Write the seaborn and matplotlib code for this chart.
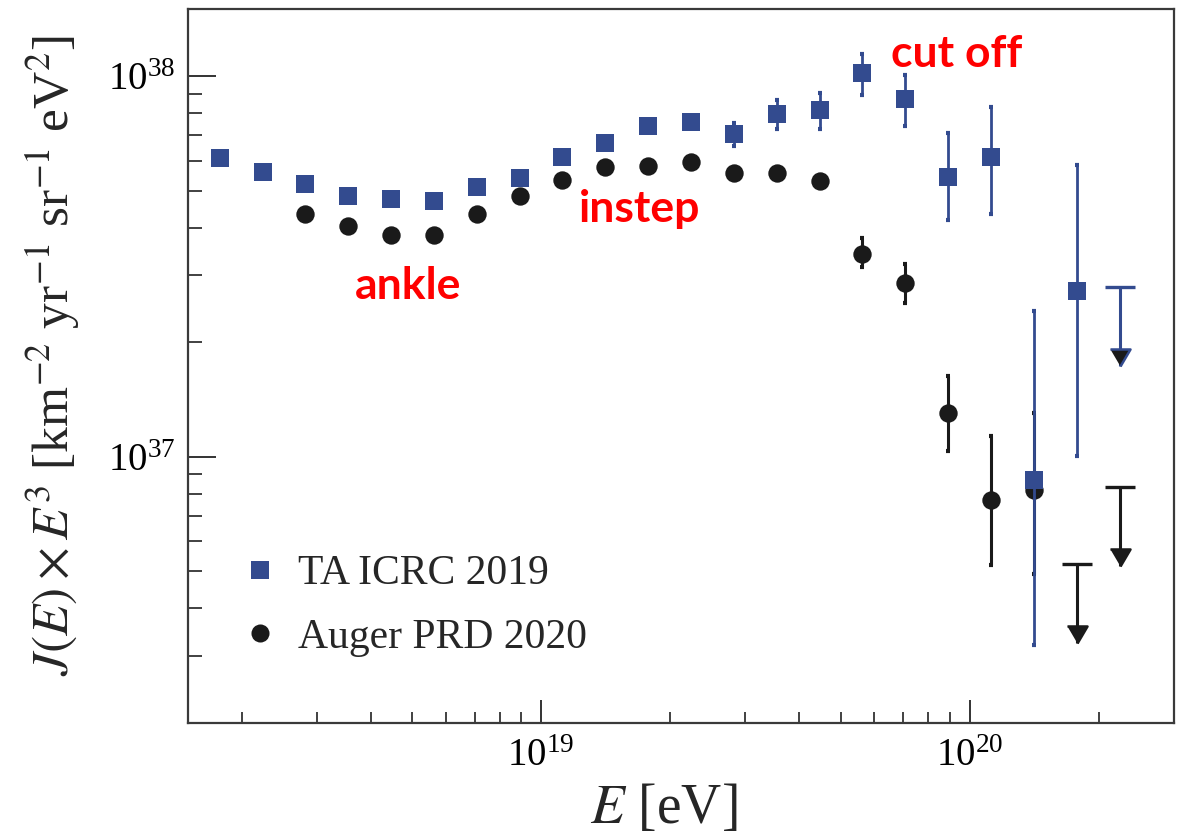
import numpy as np
import pandas as pd
import matplotlib
matplotlib.use("Agg")
import matplotlib.pyplot as plt
from matplotlib.lines import Line2D
from matplotlib.ticker import LogLocator, NullFormatter
import seaborn as sns

nan = np.nan

# ---- Telescope Array (ICRC 2019): log10(E/eV) bin centres, E^3 J(E) and 1-sigma band
ta_logE = [18.25, 18.35, 18.45, 18.55, 18.65, 18.75, 18.85, 18.95, 19.05, 19.15,
           19.25, 19.35, 19.45, 19.55, 19.65, 19.75, 19.85, 19.95, 20.05, 20.15, 20.25]
ta_flux = [6.09e37, 5.61e37, 5.20e37, 4.84e37, 4.75e37, 4.69e37, 5.11e37, 5.40e37, 6.13e37, 6.67e37,
           7.38e37, 7.60e37, 7.05e37, 7.97e37, 8.13e37, 1.017e38, 8.73e37, 5.43e37, 6.14e37, 8.70e36, 2.73e37]
ta_low = [nan] * 12 + [6.54e37, 7.29e37, 7.25e37, 8.95e37, 7.38e37, 4.18e37, 4.35e37, 3.20e36, 1.005e37]
ta_high = [nan] * 12 + [7.56e37, 8.68e37, 9.02e37, 1.146e38, 1.009e38, 7.09e37, 8.32e37, 2.42e37, 5.85e37]
ta_ul_logE = [20.35]
ta_ul = [2.79e37]

# ---- Pierre Auger Observatory (PRD 2020)
auger_logE = [18.45, 18.55, 18.65, 18.75, 18.85, 18.95, 19.05, 19.15, 19.25, 19.35,
              19.45, 19.55, 19.65, 19.75, 19.85, 19.95, 20.05, 20.15]
auger_flux = [4.34e37, 4.04e37, 3.83e37, 3.83e37, 4.35e37, 4.84e37, 5.34e37, 5.79e37, 5.81e37, 5.97e37,
              5.57e37, 5.58e37, 5.32e37, 3.42e37, 2.86e37, 1.303e37, 7.72e36, 8.18e36]
auger_low = [nan] * 13 + [3.15e37, 2.54e37, 1.037e37, 5.19e36, 4.93e36]
auger_high = [nan] * 13 + [3.75e37, 3.22e37, 1.627e37, 1.132e37, 1.305e37]
auger_ul_logE = [20.25, 20.35]
auger_ul = [5.24e36, 8.33e36]

legend_labels = ["TA ICRC 2019", "Auger PRD 2020"]
features = [("cut off", 0.7799, 0.9191), ("instep", 0.4584, 0.7019), ("ankle", 0.2231, 0.5939)]

BLUE = "#334b8f"
BLACK = "#1a1a1a"
ARROW = 0.62  # length of the upper-limit arrows as a flux ratio

sns.set_theme(style="ticks")
plt.rcParams["font.family"] = ["Liberation Serif", "DejaVu Serif"]
plt.rcParams["mathtext.fontset"] = "stix"

fig = plt.figure(figsize=(11.78, 8.36), dpi=100)
ax = fig.add_axes([0.1596, 0.1355, 0.8370, 0.8534])
ax.set_xscale("log")
ax.set_yscale("log")

ta = pd.DataFrame({"E": 10 ** np.array(ta_logE), "flux": ta_flux,
                   "lo": ta_low, "hi": ta_high})
au = pd.DataFrame({"E": 10 ** np.array(auger_logE), "flux": auger_flux,
                   "lo": auger_low, "hi": auger_high})

# error bars
ax.errorbar(au["E"], au["flux"], yerr=[au["flux"] - au["lo"], au["hi"] - au["flux"]],
            fmt="none", ecolor=BLACK, elinewidth=2.2, capsize=1.6, capthick=3, zorder=2)
ax.errorbar(ta["E"], ta["flux"], yerr=[ta["flux"] - ta["lo"], ta["hi"] - ta["flux"]],
            fmt="none", ecolor=BLUE, elinewidth=2.0, capsize=1.6, capthick=3, zorder=4)

# markers
sns.scatterplot(data=au, x="E", y="flux", marker="o", s=175, color=BLACK,
                linewidth=0, ax=ax, zorder=3, legend=False)
sns.scatterplot(data=ta, x="E", y="flux", marker="s", s=180, color=BLUE,
                linewidth=0, ax=ax, zorder=5, legend=False)

# upper limits: cap, stem and downward arrow head (marker anchored at its tip)
tri = [(-1.0, 1.7), (1.0, 1.7), (0.0, 0.0)]


def upper_limits(logE, vals, color, face, z):
    for le, v in zip(logE, vals):
        e = 10 ** le
        ax.plot([e, e], [v, v * ARROW], color=color, lw=2.2, zorder=z, solid_capstyle="butt")
        ax.plot([e], [v], marker="_", ms=22, mew=2.4, color=color, zorder=z)
        ax.plot([e], [v * ARROW], marker=tri, ms=24.5, mfc=face, mec=color, mew=1.8,
                ls="none", zorder=z)


upper_limits(auger_ul_logE, auger_ul, BLACK, BLACK, 3)
upper_limits(ta_ul_logE, ta_ul, BLUE, BLACK, 5)

# axes
ax.set_xlim(1.5e18, 3.0e20)
ax.set_ylim(2.0e36, 1.5e38)
ax.xaxis.set_major_locator(LogLocator(base=10))
ax.xaxis.set_minor_locator(LogLocator(base=10, subs=np.arange(2, 10)))
ax.yaxis.set_major_locator(LogLocator(base=10))
ax.yaxis.set_minor_locator(LogLocator(base=10, subs=np.arange(2, 10)))
ax.xaxis.set_minor_formatter(NullFormatter())
ax.yaxis.set_minor_formatter(NullFormatter())

ax.tick_params(axis="both", which="both", direction="in", top=False, right=False,
               colors="#333333", labelcolor="black", labelsize=28)
ax.tick_params(axis="y", which="major", length=20, width=1.4, pad=9)
ax.tick_params(axis="y", which="minor", length=10, width=1.3)
ax.tick_params(axis="x", which="major", length=16.5, width=1.4, pad=11)
ax.tick_params(axis="x", which="minor", length=8, width=1.3)
for sp in ax.spines.values():
    sp.set_visible(True)
    sp.set_color("#3a3a3a")
    sp.set_linewidth(1.6)

ax.set_xlabel(r"$E$ [eV]", fontsize=40)
ax.set_ylabel(r"$J(E) \times E^3$ [km$^{-2}$ yr$^{-1}$ sr$^{-1}$ eV$^{2}$]", fontsize=37)
ax.xaxis.set_label_coords(0.482, -0.085)
ax.yaxis.set_label_coords(-0.108, 0.515)

# legend
handles = [Line2D([], [], marker="s", color=BLUE, ls="none", ms=13, mew=0),
           Line2D([], [], marker="o", color=BLACK, ls="none", ms=13, mew=0)]
ax.legend(handles, legend_labels, loc="center left", bbox_to_anchor=(0.0517, 0.164),
          frameon=False, fontsize=30, borderpad=0, borderaxespad=0, handlelength=1.0,
          handletextpad=0.42, labelspacing=0.6)

# spectral features
for txt, fx, fy in features:
    ax.text(fx, fy, txt, transform=ax.transAxes, ha="center", va="baseline",
            color="#ff0000", fontsize=32, fontweight="bold", family="Lato")

fig.savefig("out.png", dpi=100)
